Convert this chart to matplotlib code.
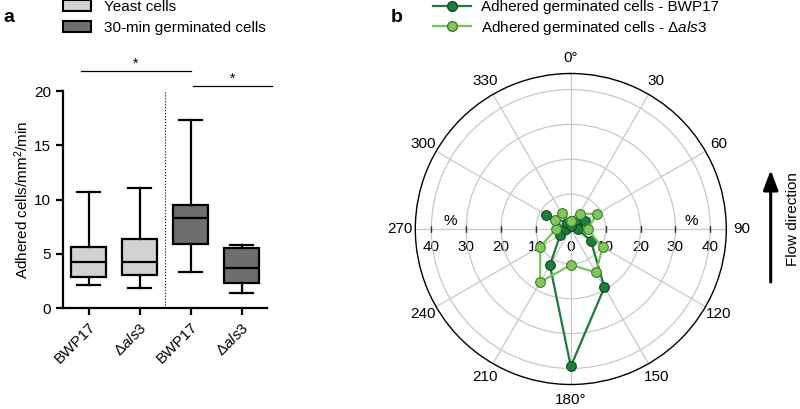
import numpy as np
import matplotlib.pyplot as plt
from matplotlib.patches import Patch, FancyArrowPatch
from matplotlib.lines import Line2D
from matplotlib.transforms import offset_copy

plt.rcParams['font.family'] = ['Liberation Sans', 'DejaVu Sans']
plt.rcParams['mathtext.fontset'] = 'custom'
plt.rcParams['mathtext.rm'] = 'Liberation Sans'
plt.rcParams['mathtext.it'] = 'Liberation Sans:italic'

# panel a: box plot summaries (min / Q1 / median / Q3 / max)
groups = ['BWP17', r'$\Delta\mathit{als3}$', 'BWP17', r'$\Delta\mathit{als3}$']
whislo = [2.15, 1.8, 3.3, 1.4]
q1 = [2.9, 3.0, 5.9, 2.3]
med = [4.2, 4.2, 8.3, 3.65]
q3 = [5.6, 6.35, 9.45, 5.5]
whishi = [10.65, 11.05, 17.35, 5.85]
box_colors = ['#d2d2d2', '#d2d2d2', '#6e6e6e', '#6e6e6e']
legend_a = ['Yeast cells', '30-min germinated cells']

# panel b: % of adhered cells per 30 deg direction
angles = np.arange(0, 360, 30)
bwp17 = [1.0, 3.0, 4.6, 2.0, 6.6, 19.3, 39.4, 12.0, 3.5, 1.5, 8.2, 2.0]
als3 = [2.4, 5.0, 8.7, 4.8, 10.5, 14.4, 10.3, 17.6, 10.1, 4.2, 5.3, 5.3]
angle_labels = ['0°', '30', '60', '90', '120', '150', '180°', '210', '240', '270', '300', '330']
rings = [10, 20, 30, 40]
legend_b = ['Adhered germinated cells - BWP17',
            r'Adhered germinated cells - $\Delta\mathit{als3}$']

W, H = 800, 409
fig = plt.figure(figsize=(W/100, H/100), dpi=100)

# ---- panel a
axa = fig.add_axes([63/W, 1-308/H, 204/W, 217/H])
stats = [dict(med=m, q1=a, q3=b, whislo=lo, whishi=hi, fliers=[])
         for m, a, b, lo, hi in zip(med, q1, q3, whislo, whishi)]
lw = 1.6
bp = axa.bxp(stats, positions=np.arange(4), widths=0.68, capwidths=0.44,
             patch_artist=True, showfliers=False,
             boxprops=dict(linewidth=lw, edgecolor='k'),
             whiskerprops=dict(linewidth=lw), capprops=dict(linewidth=lw),
             medianprops=dict(color='k', linewidth=lw))
for patch, c in zip(bp['boxes'], box_colors):
    patch.set_facecolor(c)

axa.set_xlim(-0.5, 3.5)
axa.set_ylim(0, 20)
axa.set_yticks([0, 5, 10, 15, 20])
axa.set_xticks(np.arange(4))
axa.set_xticklabels(groups, rotation=45, ha='right', rotation_mode='anchor')
axa.tick_params(width=lw, length=5, labelsize=11)
for s in ['top', 'right']:
    axa.spines[s].set_visible(False)
for s in ['left', 'bottom']:
    axa.spines[s].set_linewidth(lw)
axa.set_ylabel('Adhered cells/mm$^2$/min', fontsize=11, labelpad=2)
axa.plot([1.5, 1.5], [0, 20], ls=':', color='k', lw=0.8)

# significance bars
axa.plot([-0.14, 2.0], [21.85, 21.85], color='k', lw=0.9, clip_on=False)
axa.text(0.93, 21.9, '*', ha='center', va='bottom', fontsize=10)
axa.plot([2.05, 3.6], [20.45, 20.45], color='k', lw=0.9, clip_on=False)
axa.text(2.82, 20.5, '*', ha='center', va='bottom', fontsize=10)

fig.legend([Patch(fc=c, ec='k', lw=1.5) for c in box_colors[1:3]], legend_a,
           loc='upper left', bbox_to_anchor=(63/W, 1.0), frameon=False,
           borderpad=0, borderaxespad=0, handlelength=1.8, handleheight=0.7,
           handletextpad=0.9, labelspacing=0.45, fontsize=11)

# ---- panel b
cx, cy, R = 570.8, 229, 155.5
axb = fig.add_axes([(cx-R)/W, 1-(cy+R)/H, 2*R/W, 2*R/H], projection='polar')
axb.set_theta_zero_location('N')
axb.set_theta_direction(-1)

th = np.deg2rad(np.append(angles, angles[0]))
dark, dark_face, dark_edge = '#1d7a3c', '#1e7d3e', '#0c4a20'
light, light_face, light_edge = '#78c25a', '#82c75c', '#3e7d2a'
axb.plot(th, np.append(bwp17, bwp17[0]), '-o', color=dark, lw=1.6, ms=7,
         mfc=dark_face, mec=dark_edge, mew=0.8, zorder=3)
axb.plot(th, np.append(als3, als3[0]), '-o', color=light, lw=1.6, ms=7,
         mfc=light_face, mec=light_edge, mew=0.8, zorder=4)

axb.set_ylim(0, 44.6)
axb.set_rticks(rings)
axb.set_yticklabels([])
axb.set_thetagrids(angles, angle_labels, fontsize=11)
axb.tick_params(axis='x', pad=2, length=4, direction='inout', width=1)
axb.grid(color='#c8c8c8', lw=0.9)
axb.spines['polar'].set_color('k')
axb.spines['polar'].set_linewidth(1.0)

# radial scale along the horizontal diameter
below = offset_copy(axb.transData, fig=fig, y=-11, units='dots')
above = offset_copy(axb.transData, fig=fig, y=8, units='dots')
for side in [90, 270]:
    t = np.deg2rad(side)
    axb.plot([t]*len(rings), rings, ls='none', marker='|', ms=5, mew=1,
             color='#333333', zorder=2)
    for r in rings:
        axb.text(t, r, str(r), transform=below, ha='center', va='top',
                 fontsize=11, zorder=1)
    axb.text(t, 34.6, '%', transform=above, ha='center', va='center',
             fontsize=11, zorder=1)
axb.text(0, 0, '0', transform=below, ha='center', va='top', fontsize=11, zorder=1)

fig.legend([Line2D([], [], color=dark, lw=1.6, marker='o', ms=7, mfc=dark_face, mec=dark_edge),
            Line2D([], [], color=light, lw=1.6, marker='o', ms=7, mfc=light_face, mec=light_edge)],
           legend_b, loc='upper left', bbox_to_anchor=(433/W, 1.0), frameon=False,
           borderpad=0, borderaxespad=0, handlelength=2.5, handletextpad=0.65,
           labelspacing=0.3, fontsize=11)

# flow direction arrow
fig.add_artist(FancyArrowPatch((770.7/W, 1-282/H), (770.7/W, 1-170/H),
                               transform=fig.transFigure, color='k', lw=2.2,
                               arrowstyle='-|>,head_length=1.2,head_width=0.45',
                               mutation_scale=10, shrinkA=0, shrinkB=0))
fig.text(792.7/W, 1-219/H, 'Flow direction', rotation=90, ha='center',
         va='center', fontsize=11)

fig.text(9/W, 1-18/H, 'a', fontsize=14, fontweight='bold', ha='center', va='center')
fig.text(397/W, 1-18/H, 'b', fontsize=14, fontweight='bold', ha='center', va='center')

fig.savefig('out.png', dpi=100)
